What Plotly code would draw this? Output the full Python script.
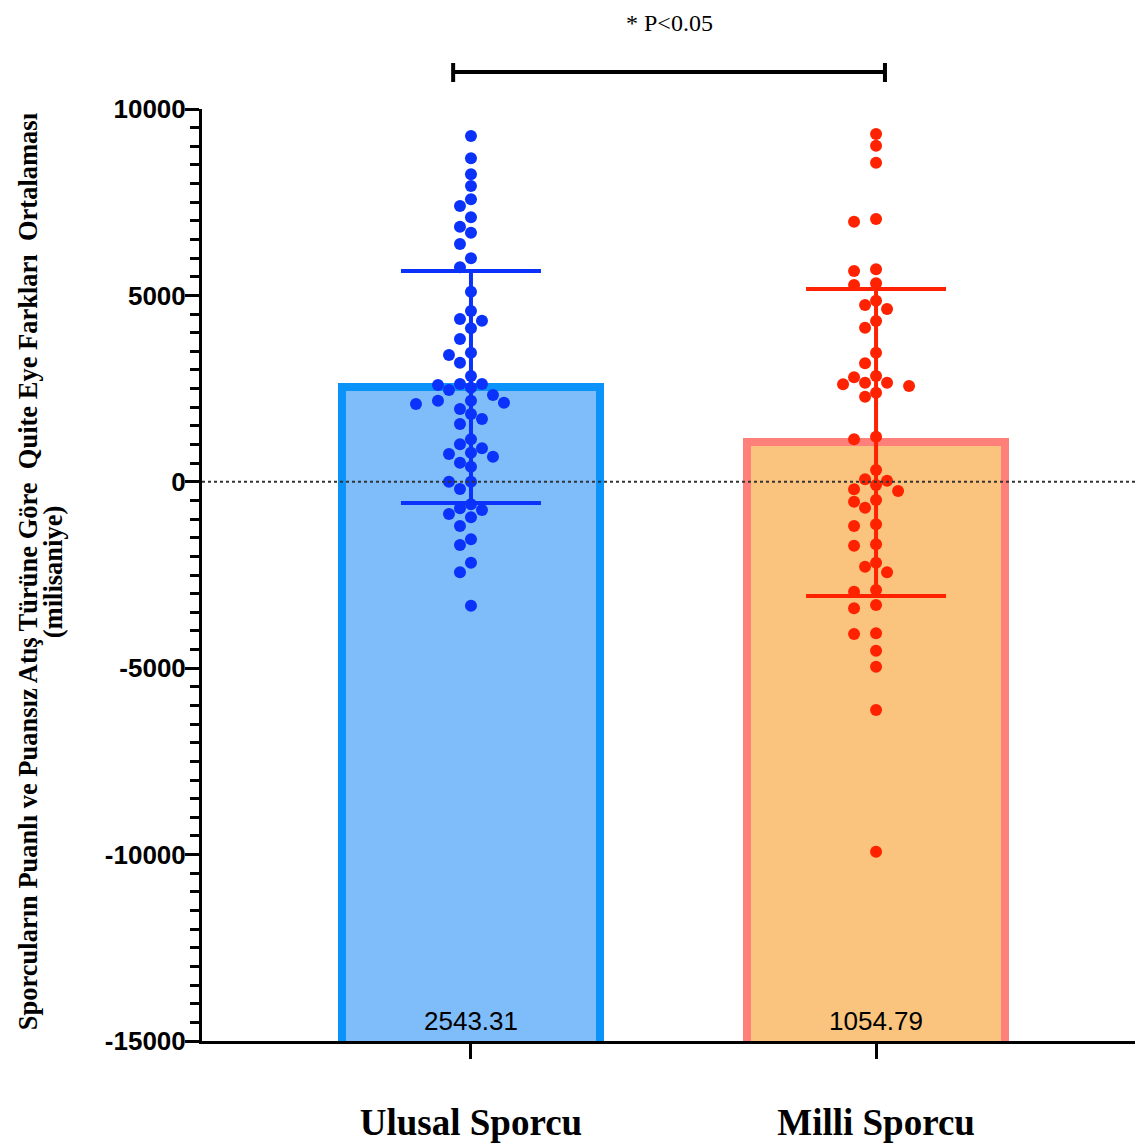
import plotly.graph_objects as go

# ---------------- data ----------------
categories = ["Ulusal Sporcu", "Milli Sporcu"]
means = [2543.31, 1054.79]
sds = [3113, 4120]

ulusal_values = [
    9276, 8678, 8248, 7935, 7578, 7398, 7095, 6843, 6682, 6379,
    5995, 5754, 5100, 4582, 4367, 4322, 4118, 3830, 3463, 3401,
    3195, 2838, 2623, 2524, 2623, 2462, 2596, 2175, 2121, 2328,
    2087, 2175, 1818, 1953, 1685, 1550, 1006, 1140, 899, 673,
    781, 746, 513, 405, 3, 3, -193, -604, -756, -711,
    -952, -864, -1186, -1543, -1695, -2170, -2428, -3324,
]
milli_values = [
    9329, 9016, 8560, 6977, 7049, 5700, 5654, 5325, 5279, 4858,
    4635, 4743, 4313, 4134, 3463, 3180, 2838, 2570, 2803, 2390,
    2615, 2283, 2658, 2658, 1210, 1140, 317, 30, 67, -247,
    -86, -201, -534, -695, -488, -1140, -1186, -1677, -1714, -2170,
    -2277, -2428, -2948, -2902, -3305, -3393, -4083, -4064, -4531, -4960,
    -6121, -9922,
]
y_ticks = [-15000, -10000, -5000, 0, 5000, 10000]
y_ticktext = ["-15000", "-10000", "-5000", "0", "5000", "10000"]
sig_text = "* P<0.05"
y_title_lines = [
    "Sporcuların Puanlı ve Puansız Atış Türüne Göre  Quite Eye Farkları  Ortalaması",
    "(milisaniye)",
]

# ---------------- styling / geometry ----------------
OFF = 8  # page body offset of the rendered figure
W, H = 1143 - OFF, 1147 - OFF
M_L, M_R, M_T, M_B = 202 - OFF, 0, 109 - OFF, 106
Y_RANGE = [-15000, 10000]
X_RANGE = [-0.664, 1.659]
plot_w = W - M_L - M_R
plot_h = H - M_T - M_B
px_per_x = plot_w / (X_RANGE[1] - X_RANGE[0])
px_per_y = plot_h / (Y_RANGE[1] - Y_RANGE[0])

bar_fill = ["#7FBCFA", "#FAC47E"]
bar_edge = ["#0A94FA", "#FF7F7B"]
dot_color = ["#0A32FA", "#FF2200"]
SERIF = "Liberation Serif"
SANS = "Liberation Sans"


def beeswarm(vals, center, diam=11.6, step=11.0):
    """Greedy beeswarm: computes horizontal offsets so dots don't overlap."""
    placed = []
    xs = [None] * len(vals)
    order = sorted(range(len(vals)), key=lambda i: -vals[i])
    cands = [0.0]
    for m in range(1, 30):
        cands += [-m * step, m * step]
    for i in order:
        ypx = vals[i] * px_per_y
        chosen = cands[-1]
        for c in cands:
            if all((c - px) ** 2 + (ypx - py) ** 2 >= diam * diam for px, py in placed):
                chosen = c
                break
        placed.append((chosen, ypx))
        xs[i] = center + chosen / px_per_x
    return xs


groups = [ulusal_values, milli_values]
xpos = list(range(len(categories)))

fig = go.Figure()

# bars from below the axis up to the mean (bottom edge hidden by clipping)
bar_base = Y_RANGE[0] - 250
fig.add_trace(go.Bar(
    x=xpos,
    y=[m - bar_base for m in means],
    base=bar_base,
    width=0.637,
    marker=dict(color=bar_fill, line=dict(color=bar_edge, width=8)),
    showlegend=False,
    hoverinfo="skip",
))

# mean ± SD error bars
for i, (m, s) in enumerate(zip(means, sds)):
    fig.add_trace(go.Scatter(
        x=[xpos[i]], y=[m], mode="markers",
        marker=dict(size=1, color="rgba(0,0,0,0)"),
        error_y=dict(type="data", array=[s], visible=True,
                     color=dot_color[i], thickness=4, width=70),
        showlegend=False, hoverinfo="skip",
    ))

# individual points
for i, vals in enumerate(groups):
    fig.add_trace(go.Scatter(
        x=beeswarm(vals, xpos[i]), y=vals, mode="markers",
        marker=dict(size=12, color=dot_color[i]),
        showlegend=False, name=categories[i],
    ))

# zero reference line (dotted)
fig.add_shape(type="line", xref="paper", yref="y", x0=0, x1=1, y0=0, y1=0,
              line=dict(color="#333333", width=2, dash="dot"), layer="above")

# significance bracket
br_y = 1 + (M_T + OFF - 72) / plot_h
br_lo = 1 + (M_T + OFF - 82) / plot_h
br_hi = 1 + (M_T + OFF - 63) / plot_h
x_l, x_r = xpos[0] - 0.044, xpos[1] + 0.022
fig.add_shape(type="line", xref="x", yref="paper", x0=x_l, x1=x_r, y0=br_y, y1=br_y,
              line=dict(color="black", width=4))
for xx in (x_l, x_r):
    fig.add_shape(type="line", xref="x", yref="paper", x0=xx, x1=xx, y0=br_lo, y1=br_hi,
                  line=dict(color="black", width=4))
fig.add_annotation(text=sig_text, xref="x", yref="paper",
                   x=(xpos[0] + xpos[1]) / 2 - 0.01, y=1 + (M_T + OFF - 23) / plot_h,
                   xanchor="center", yanchor="middle",
                   showarrow=False, font=dict(family=SERIF, size=24, color="black"))

# mean value labels inside bars
for i, m in enumerate(means):
    fig.add_annotation(text=f"{m:.2f}", x=xpos[i], y=Y_RANGE[0], yanchor="bottom",
                       yshift=3, showarrow=False,
                       font=dict(family=SANS, size=26, color="black"))

# y-axis title (two lines)
for k, (line_txt, xc) in enumerate(zip(y_title_lines, [28, 53])):
    fig.add_annotation(text=line_txt, xref="paper", yref="paper",
                       x=-(M_L + OFF - xc) / plot_w, y=0.503, textangle=-90,
                       showarrow=False, xanchor="center", yanchor="middle",
                       font=dict(family=SERIF, size=26.5, color="black", weight="bold"))

fig.update_layout(
    width=W, height=H,
    margin=dict(l=M_L, r=M_R, t=M_T, b=M_B),
    plot_bgcolor="white", paper_bgcolor="white",
    bargap=0,
    xaxis=dict(
        range=X_RANGE, tickmode="array", tickvals=xpos, ticktext=categories,
        showgrid=False, zeroline=False, showline=True, linecolor="black", linewidth=3,
        ticks="outside", ticklen=15, tickwidth=3, tickcolor="black",
        tickfont=dict(family=SERIF, size=37, color="black", weight="bold"),
        ticklabelstandoff=32,
    ),
    yaxis=dict(
        range=Y_RANGE, tickmode="array", tickvals=y_ticks, ticktext=y_ticktext,
        showgrid=False, zeroline=False, showline=True, linecolor="black", linewidth=3,
        ticks="outside", ticklen=14, tickwidth=3, tickcolor="black",
        tickfont=dict(family=SANS, size=26, color="black", weight="bold"),
        ticklabelstandoff=-6,
        minor=dict(dtick=500, ticks="outside", ticklen=9, tickwidth=3, tickcolor="black"),
    ),
)

fig.write_html("out.html")
